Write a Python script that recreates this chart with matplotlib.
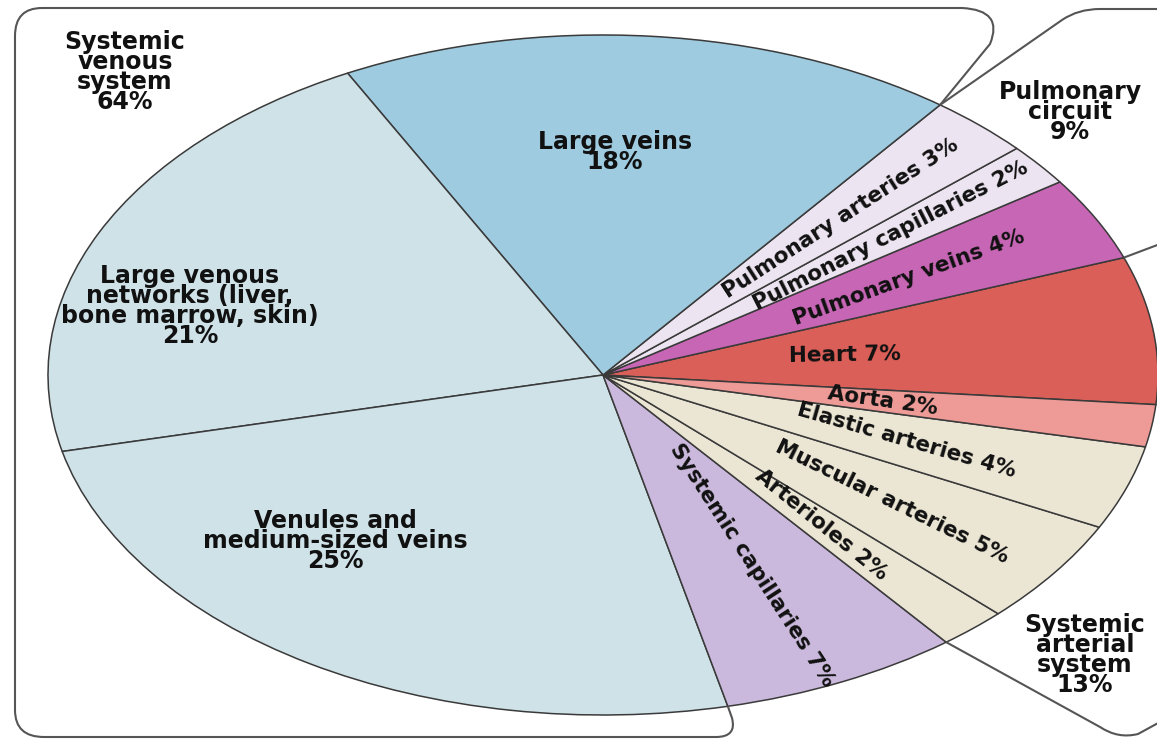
import numpy as np
import matplotlib.pyplot as plt
from matplotlib.path import Path
from matplotlib.patches import PathPatch

# blood volume distribution (%), counter-clockwise from the heart
segments = ['Heart', 'Pulmonary veins', 'Pulmonary capillaries', 'Pulmonary arteries',
            'Large veins', 'Large venous\nnetworks (liver,\nbone marrow, skin)',
            'Venules and\nmedium-sized veins', 'Systemic capillaries', 'Arterioles',
            'Muscular arteries', 'Elastic arteries', 'Aorta']
shares = [7, 4, 2, 3, 18, 21, 25, 7, 2, 5, 4, 2]
colors = ['#da5f58', '#c766b5', '#ece4f0', '#ece4f0', '#9ecbe0', '#cfe2e8',
          '#cfe2e8', '#cab9dc', '#ebe6d4', '#ebe6d4', '#ebe6d4', '#ee9b97']

groups = ['Systemic\nvenous\nsystem', 'Pulmonary\ncircuit', 'Systemic\narterial\nsystem']
group_shares = [64, 9, 13]

# image geometry: pie centre and radii in pixels (the chart is stretched sideways)
W, H = 1157, 739
CX, CY, RX, RY = 603, 375, 555, 340


def px(x, y):
    return ((x - CX) / RX, (CY - y) / RY)


fig = plt.figure(figsize=(W / 100, H / 100), dpi=100)
ax = fig.add_axes([0, 0, 1, 1])

wedges, _ = ax.pie(shares, colors=colors, startangle=-5, counterclock=True, radius=1,
                   wedgeprops=dict(edgecolor='#3a3a3a', linewidth=1.1))
ax.set_aspect('auto')
ax.set_xlim(-CX / RX, (W - CX) / RX)
ax.set_ylim((CY - H) / RY, CY / RY)
ax.axis('off')

bold = dict(fontfamily='DejaVu Sans', fontweight='bold', color='#111111')

# labels written along the thin wedges
radial = {0: (0.44, 1), 1: (0.62, 20), 2: (0.66, 27), 3: (0.63, 33), 7: (0.62, -57),
          8: (0.59, -39), 9: (0.64, -26), 10: (0.58, -16), 11: (0.51, -8)}
for i, (r, rot) in radial.items():
    w = wedges[i]
    mid = np.radians((w.theta1 + w.theta2) / 2)
    ax.text(r * np.cos(mid), r * np.sin(mid), f'{segments[i]} {shares[i]}%',
            rotation=rot, rotation_mode='anchor', ha='center', va='center',
            fontsize=15.5, **bold)

# the three big venous wedges get horizontal labels
flat = {4: (615, 152), 5: (190, 306), 6: (335, 541)}
for i, (x, y) in flat.items():
    ax.text(*px(x, y), f'{segments[i]}\n{shares[i]}%', ha='center', va='center',
            fontsize=17, linespacing=0.8, **bold)

# group titles
for name, val, (x, y) in zip(groups, group_shares, [(125, 72), (1070, 112), (1085, 655)]):
    ax.text(*px(x, y), f'{name}\n{val}%', ha='center', va='center',
            fontsize=17, linespacing=0.78, **bold)


def edge_point(angle):
    a = np.radians(angle)
    return (np.cos(a), np.sin(a))


# bracket outlines around the groups
line_kw = dict(facecolor='none', edgecolor='#555555', linewidth=1.5)
M, L, C3 = Path.MOVETO, Path.LINETO, Path.CURVE3

ven_top = edge_point(wedges[4].theta1)
ven_bot = edge_point(wedges[6].theta2)
verts = [ven_top, px(990, 44), px(1004, 10), px(962, 8), px(42, 8), px(15, 8), px(15, 36),
         px(15, 710), px(15, 737), px(44, 737), px(716, 737), px(737, 737), px(732, 718),
         ven_bot]
codes = [M, L, C3, C3, L, C3, C3, L, C3, C3, L, C3, C3, L]
ax.add_patch(PathPatch(Path(verts, codes), **line_kw))

pul_top = edge_point(wedges[3].theta2)
pul_bot = edge_point(wedges[1].theta1)
verts = [pul_top, px(1062, 20), px(1078, 9), px(1100, 9), px(1160, 9)]
ax.add_patch(PathPatch(Path(verts, [M, L, C3, C3, L]), **line_kw))
ax.add_patch(PathPatch(Path([pul_bot, px(1160, 244)], [M, L]), **line_kw))

art_bot = edge_point(wedges[8].theta1)
verts = [art_bot, px(1100, 727), px(1118, 739), px(1138, 734), px(1160, 722)]
ax.add_patch(PathPatch(Path(verts, [M, L, C3, C3, L]), **line_kw))

fig.savefig('out.png', dpi=100)
